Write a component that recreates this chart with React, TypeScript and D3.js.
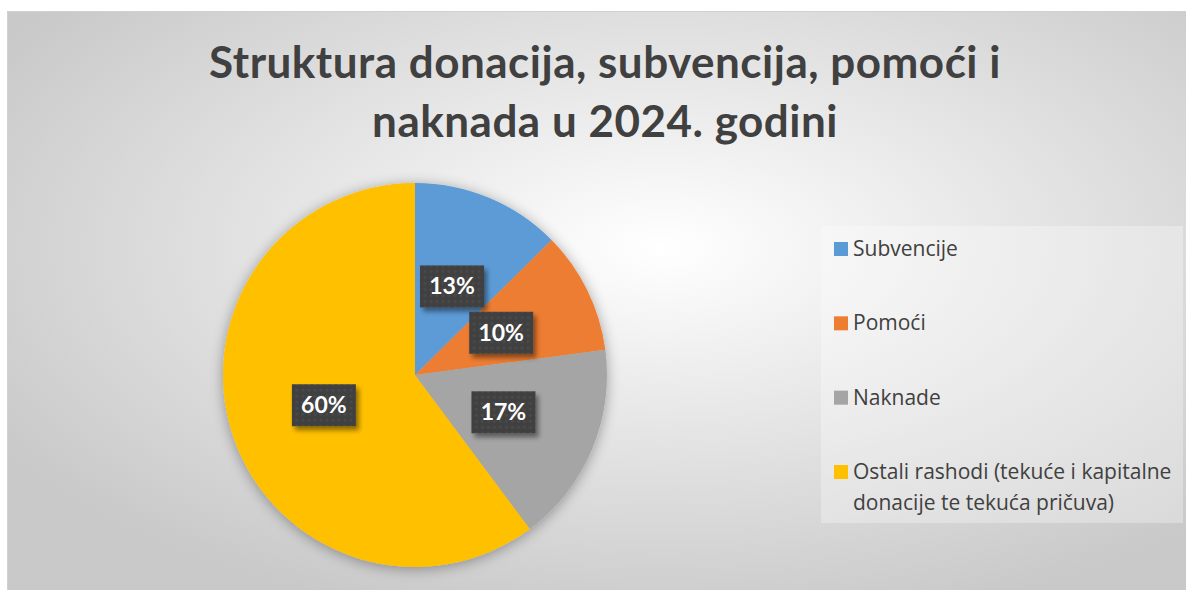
import React from "react";
import * as d3 from "d3";

const categories = [
  "Subvencije",
  "Pomoći",
  "Naknade",
  "Ostali rashodi (tekuće i kapitalne donacije te tekuća pričuva)",
];
const values = [12.6, 10.3, 16.9, 60.2];
const colors = ["#5b9bd5", "#ed7d31", "#a5a5a5", "#ffc000"];
const titleLines = ["Struktura donacija, subvencija, pomoći i", "naknada u 2024. godini"];
const legendLines = [["Subvencije"], ["Pomoći"], ["Naknade"], ["Ostali rashodi (tekuće i kapitalne", "donacije te tekuća pričuva)"]];

export default function App() {
  const W = 1186, H = 590;
  const cx = 415, cy = 375, R = 192;
  const pie = d3.pie<number>().sort(null).value((d) => d);
  const arcs = pie(values);
  const arc = d3.arc<d3.PieArcDatum<number>>().innerRadius(0).outerRadius(R);
  const total = d3.sum(values);
  const font = "Lato, 'Open Sans', sans-serif";
  const legendFont = "'Open Sans', Lato, sans-serif";
  const legendY = d3.scalePoint<number>().domain([0, 1, 2, 3]).range([249, 472]);

  return (
    <svg width={W} height={H} style={{ position: "absolute", left: 0, top: 0 }}>
      <defs>
        <radialGradient id="bg" cx="55%" cy="40%" r="65%">
          <stop offset="0%" stopColor="#ffffff" />
          <stop offset="100%" stopColor="#c9c9c9" />
        </radialGradient>
        <filter id="pieShadow" x="-20%" y="-20%" width="140%" height="140%">
          <feGaussianBlur in="SourceAlpha" stdDeviation="7" />
          <feOffset dx="0" dy="2" />
          <feComponentTransfer>
            <feFuncA type="linear" slope="0.35" />
          </feComponentTransfer>
          <feMerge>
            <feMergeNode />
            <feMergeNode in="SourceGraphic" />
          </feMerge>
        </filter>
        <filter id="boxShadow" x="-30%" y="-30%" width="160%" height="160%">
          <feGaussianBlur in="SourceAlpha" stdDeviation="2.5" />
          <feOffset dx="3" dy="4" />
          <feComponentTransfer>
            <feFuncA type="linear" slope="0.45" />
          </feComponentTransfer>
          <feMerge>
            <feMergeNode />
            <feMergeNode in="SourceGraphic" />
          </feMerge>
        </filter>
        <pattern id="dots" width="6" height="6" patternUnits="userSpaceOnUse">
          <rect width="6" height="6" fill="#404040" />
          <circle cx="3" cy="3" r="1.6" fill="#4a4a4a" />
        </pattern>
      </defs>
      <rect x={0} y={0} width={W} height={H} fill="#ffffff" />
      <rect x={7.5} y={11.5} width={1190} height={590} fill="url(#bg)" stroke="#d0d0d0" strokeWidth={1} />
      {titleLines.map((t, i) => (
        <text
          key={i}
          x={605}
          y={78 + i * 59}
          textAnchor="middle"
          fontFamily={font}
          fontWeight={700}
          fontSize={44}
          letterSpacing={0.5}
          fill="#404040"
        >
          {t}
        </text>
      ))}
      <g transform={`translate(${cx},${cy})`}>
        <g filter="url(#pieShadow)">
          {arcs.map((a, i) => (
            <path key={i} d={arc(a) || ""} fill={colors[i]} />
          ))}
        </g>
        {arcs.map((a, i) => {
          const [x, y] = arc.centroid(a);
          const label = `${Math.round((a.data / total) * 100)}%`;
          return (
            <g key={"l" + i} transform={`translate(${x},${y})`}>
              <rect x={-32} y={-21} width={64} height={42} fill="url(#dots)" filter="url(#boxShadow)" />
              <text
                x={0}
                y={8}
                textAnchor="middle"
                fontFamily={font}
                fontWeight={700}
                fontSize={23}
                fill="#ffffff"
              >
                {label}
              </text>
            </g>
          );
        })}
      </g>
      <rect x={821} y={226} width={362} height={297} fill="#ffffff" fillOpacity={0.3} />
      {categories.map((c, i) => {
        const y = legendY(i) as number;
        return (
          <g key={"lg" + i}>
            <rect x={834} y={y - 7} width={14} height={14} fill={colors[i]} />
            {legendLines[i].map((ln, j) => (
              <text
                key={j}
                x={853}
                y={y + 7 + j * 31}
                fontFamily={legendFont}
                fontSize={21}
                fill="#404040"
              >
                {ln}
              </text>
            ))}
          </g>
        );
      })}
    </svg>
  );
}
